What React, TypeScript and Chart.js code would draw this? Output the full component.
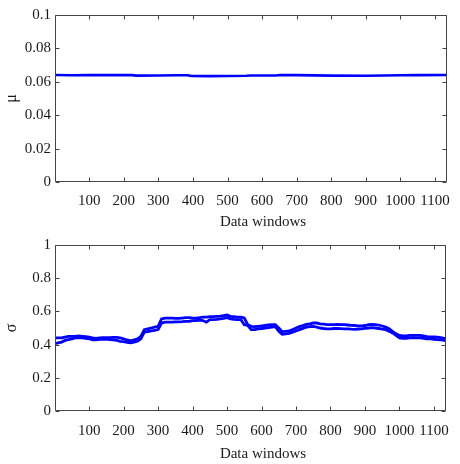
import React, { useEffect, useRef } from "react";
import { Chart, registerables } from "chart.js";
Chart.register(...registerables);

// ---- data ----
const xTickValues = [100, 200, 300, 400, 500, 600, 700, 800, 900, 1000, 1100];
const muTickValues = [0, 0.02, 0.04, 0.06, 0.08, 0.1];
const sigmaTickValues = [0, 0.2, 0.4, 0.6, 0.8, 1];
const xTitle = "Data windows";

const muWindows = [1, 50, 100, 150, 200, 225, 235, 300, 350, 385, 395, 450, 500, 555, 565, 640, 650, 700, 800, 900, 950, 1000, 1050, 1135];
const muValues = [0.0641, 0.0639, 0.064, 0.064, 0.064, 0.064, 0.0637, 0.0638, 0.0639, 0.0639, 0.0635, 0.0634, 0.0635, 0.0636, 0.0638, 0.0638, 0.0641, 0.064, 0.0637, 0.0636, 0.0638, 0.0639, 0.064, 0.0641];

const sigmaWindows = [
  1, 10, 20, 30, 40, 50, 60, 70, 80, 90,
  100, 110, 120, 130, 140, 150, 160, 170, 180, 190,
  200, 210, 220, 230, 240, 250, 260, 270, 280, 290,
  300, 310, 320, 330, 340, 350, 360, 370, 380, 390,
  400, 410, 420, 430, 440, 450, 460, 470, 480, 490,
  500, 510, 520, 530, 540, 550, 560, 570, 580, 590,
  600, 610, 620, 630, 640, 650, 660, 670, 680, 690,
  700, 710, 720, 730, 740, 750, 760, 770, 780, 790,
  800, 810, 820, 830, 840, 850, 860, 870, 880, 890,
  900, 910, 920, 930, 940, 950, 960, 970, 980, 990,
  1000, 1010, 1020, 1030, 1040, 1050, 1060, 1070, 1080, 1090,
  1100, 1110, 1120, 1130, 1135,
];
const sigmaUpper = [
  0.44, 0.44, 0.44, 0.445, 0.45, 0.45, 0.45, 0.452, 0.45, 0.448,
  0.445, 0.44, 0.438, 0.44, 0.442, 0.442, 0.442, 0.443, 0.444, 0.44,
  0.435, 0.428, 0.422, 0.428, 0.435, 0.45, 0.49, 0.495, 0.5, 0.505,
  0.51, 0.555, 0.56, 0.56, 0.56, 0.558, 0.558, 0.56, 0.562, 0.562,
  0.56, 0.56, 0.562, 0.565, 0.565, 0.568, 0.568, 0.57, 0.572, 0.575,
  0.578, 0.57, 0.568, 0.566, 0.565, 0.56, 0.52, 0.51, 0.508, 0.51,
  0.512, 0.515, 0.518, 0.52, 0.52, 0.5, 0.478, 0.48, 0.482, 0.49,
  0.5, 0.508, 0.515, 0.522, 0.525, 0.53, 0.53, 0.525, 0.523, 0.52,
  0.52, 0.52, 0.522, 0.52, 0.52, 0.518, 0.516, 0.515, 0.512, 0.512,
  0.515, 0.52, 0.522, 0.52, 0.518, 0.512, 0.505, 0.495, 0.48, 0.465,
  0.455, 0.452, 0.452, 0.455, 0.456, 0.455, 0.455, 0.452, 0.448, 0.447,
  0.446, 0.445, 0.442, 0.438, 0.436,
];
const sigmaLower = [
  0.405, 0.41, 0.415, 0.425, 0.43, 0.435, 0.44, 0.44, 0.44, 0.437,
  0.435, 0.428, 0.428, 0.432, 0.432, 0.433, 0.43, 0.428, 0.425, 0.42,
  0.418, 0.413, 0.41, 0.415, 0.42, 0.435, 0.475, 0.478, 0.482, 0.485,
  0.49, 0.53, 0.535, 0.535, 0.535, 0.537, 0.537, 0.538, 0.54, 0.54,
  0.545, 0.545, 0.548, 0.545, 0.535, 0.55, 0.55, 0.552, 0.555, 0.558,
  0.562, 0.555, 0.552, 0.55, 0.55, 0.52, 0.515, 0.49, 0.49, 0.495,
  0.497, 0.5, 0.502, 0.505, 0.508, 0.48, 0.462, 0.465, 0.468, 0.475,
  0.482, 0.49, 0.498, 0.505, 0.508, 0.51, 0.505, 0.5, 0.497, 0.495,
  0.495, 0.497, 0.497, 0.496, 0.495, 0.495, 0.493, 0.492, 0.493, 0.495,
  0.498, 0.5, 0.502, 0.5, 0.497, 0.493, 0.49, 0.48, 0.47, 0.455,
  0.44, 0.438, 0.438, 0.44, 0.442, 0.44, 0.44, 0.438, 0.435, 0.434,
  0.432, 0.43, 0.428, 0.425, 0.424,
];

const FONT = "'Liberation Serif', 'Times New Roman', serif";
const BLUE = "#0000ff";
const TEXT = "#1a1a1a";
const BOX = "#444444";

function makeBoxTicks(titleY: number) {
  return {
    id: "boxTicks",
    afterDraw(chart: any) {
      const { ctx, chartArea: a, scales } = chart;
      const xs = scales.x;
      const ys = scales.y;
      ctx.save();
      ctx.strokeStyle = BOX;
      ctx.lineWidth = 1;
      const L = Math.round(a.left) + 0.5;
      const R = Math.round(a.right) - 0.5;
      const T = Math.round(a.top) + 0.5;
      const B = Math.round(a.bottom) - 0.5;
      ctx.beginPath();
      ctx.rect(L, T, R - L, B - T);
      xs.ticks.forEach((t: any) => {
        const p = Math.round(xs.getPixelForValue(t.value)) + 0.5;
        ctx.moveTo(p, B);
        ctx.lineTo(p, B - 4);
        ctx.moveTo(p, T);
        ctx.lineTo(p, T + 4);
      });
      ys.ticks.forEach((t: any) => {
        const p = Math.round(ys.getPixelForValue(t.value)) + 0.5;
        ctx.moveTo(L, p);
        ctx.lineTo(L + 4, p);
        ctx.moveTo(R, p);
        ctx.lineTo(R - 4, p);
      });
      ctx.stroke();
      // x-axis title, offset like the original figure
      ctx.fillStyle = TEXT;
      ctx.font = `15px ${FONT}`;
      ctx.textAlign = "center";
      ctx.textBaseline = "middle";
      ctx.fillText(xTitle, 263, titleY);
      ctx.restore();
    },
  };
}

function makeConfig(
  datasets: any[],
  yMax: number,
  yTicks: number[],
  yTitle: string,
  padTop: number,
  xHeight: number,
  tickPad: number,
  titleY: number
): any {
  return {
    type: "line",
    data: { datasets },
    plugins: [makeBoxTicks(titleY)],
    options: {
      animation: false,
      responsive: false,
      parsing: false,
      layout: { padding: { top: padTop, right: 11, left: 0, bottom: 0 } },
      plugins: { legend: { display: false }, tooltip: { enabled: false } },
      elements: { point: { radius: 0 }, line: { tension: 0 } },
      scales: {
        x: {
          type: "linear",
          min: 1,
          max: 1135,
          afterBuildTicks: (s: any) => {
            s.ticks = xTickValues.map((v) => ({ value: v }));
          },
          afterFit: (s: any) => {
            s.height = xHeight;
          },
          grid: { display: false, drawTicks: false },
          border: { display: false },
          ticks: {
            padding: tickPad,
            color: TEXT,
            maxRotation: 0,
            autoSkip: false,
            font: { family: FONT, size: 15 },
            callback: (v: any) => String(v),
          },
          title: { display: false },
        },
        y: {
          type: "linear",
          min: 0,
          max: yMax,
          afterBuildTicks: (s: any) => {
            s.ticks = yTicks.map((v) => ({ value: v }));
          },
          afterFit: (s: any) => {
            s.width = 55;
          },
          grid: { display: false, drawTicks: false },
          border: { display: false },
          ticks: {
            padding: 4,
            color: TEXT,
            font: { family: FONT, size: 15 },
            callback: (v: any) => String(v),
          },
          title: {
            display: true,
            text: yTitle,
            color: TEXT,
            font: { family: FONT, size: 16 },
            padding: { top: 2, bottom: 0 },
          },
        },
      },
    },
  };
}

function toPoints(xs: number[], ys: number[]) {
  return xs.map((x, i) => ({ x, y: ys[i] }));
}

export default function App() {
  const topRef = useRef<HTMLCanvasElement>(null);
  const botRef = useRef<HTMLCanvasElement>(null);

  useEffect(() => {
    const c1 = new Chart(
      topRef.current as HTMLCanvasElement,
      makeConfig(
        [
          {
            label: "μ",
            data: toPoints(muWindows, muValues),
            borderColor: BLUE,
            borderWidth: 2.6,
            pointRadius: 0,
          },
        ],
        0.1,
        muTickValues,
        "μ",
        15,
        50,
        10,
        222
      )
    );
    const c2 = new Chart(
      botRef.current as HTMLCanvasElement,
      makeConfig(
        [
          {
            label: "σ upper",
            data: toPoints(sigmaWindows, sigmaUpper),
            borderColor: BLUE,
            borderWidth: 2.8,
            pointRadius: 0,
          },
          {
            label: "σ lower",
            data: toPoints(sigmaWindows, sigmaLower),
            borderColor: BLUE,
            borderWidth: 2.8,
            pointRadius: 0,
          },
        ],
        1,
        sigmaTickValues,
        "σ",
        12,
        53,
        11,
        222
      )
    );
    return () => {
      c1.destroy();
      c2.destroy();
    };
  }, []);

  return (
    <div style={{ position: "absolute", left: 0, top: 0, width: 460, height: 464, background: "#fff" }}>
      <canvas ref={topRef} width={460} height={232} style={{ display: "block", width: 460, height: 232 }} />
      <canvas ref={botRef} width={460} height={232} style={{ display: "block", width: 460, height: 232 }} />
    </div>
  );
}
